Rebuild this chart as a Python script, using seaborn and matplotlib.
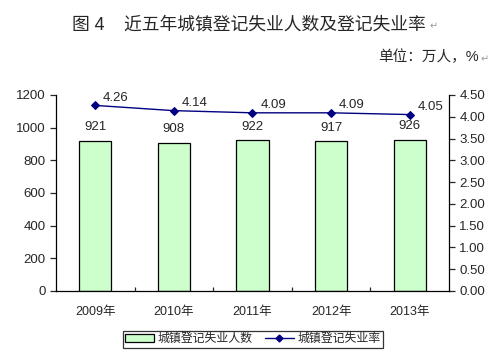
import numpy as np
import pandas as pd
import matplotlib
matplotlib.use("Agg")
import matplotlib.pyplot as plt
import seaborn as sns
from matplotlib.lines import Line2D
from matplotlib.patches import Patch

# data
years = ["2009年", "2010年", "2011年", "2012年", "2013年"]
unemployed = [921, 908, 922, 917, 926]        # 万人
rate = [4.26, 4.14, 4.09, 4.09, 4.05]          # %

sns.set_style("white")
plt.rcParams['font.family'] = ['Liberation Sans', 'Noto Sans CJK SC', 'DejaVu Sans']

df = pd.DataFrame({"year": years, "num": unemployed, "rate": rate, "pos": range(len(years))})

fig = plt.figure(figsize=(4.98, 3.57), dpi=100)
ax = fig.add_axes([0.1124, 0.185, 0.7892, 0.549])

sns.barplot(data=df, x="year", y="num", color="#CCFFCC", edgecolor="black",
            linewidth=0.9, width=0.41, saturation=1, ax=ax)
ax.set_ylim(0, 1200)
ax.set_yticks(np.arange(0, 1201, 200))
ax.set_xlim(-0.5, len(years) - 0.5)
ax.set_xticks(np.arange(0.5, len(years) - 1, 1), minor=True)
ax.set_xlabel("")
ax.set_ylabel("")
for i, v in enumerate(unemployed):
    ax.text(i, v + 45, str(v), ha="center", va="bottom", fontsize=9.5)

ax2 = ax.twinx()
sns.lineplot(data=df, x="pos", y="rate", color="#000080", marker="D", markersize=4,
             markeredgecolor="#000080", linewidth=1, ax=ax2)
ax2.set_ylim(0, 4.5)
ax2.set_yticks(np.arange(0, 4.51, 0.5))
ax2.set_yticklabels([f"{t:.2f}" for t in np.arange(0, 4.51, 0.5)])
ax2.set_xlim(-0.5, len(years) - 0.5)
ax2.set_xlabel("")
ax2.set_ylabel("")
for i, v in enumerate(rate):
    ax2.text(i + 0.1, v + 0.04, f"{v:.2f}", ha="left", va="bottom", fontsize=9.5)

for a in (ax, ax2):
    a.spines["top"].set_visible(False)
    for s in a.spines.values():
        s.set_color("black")
        s.set_linewidth(0.9)
ax.spines["right"].set_visible(False)
ax2.spines["left"].set_visible(False)
ax2.spines["bottom"].set_visible(False)

ax.tick_params(axis="y", direction="out", length=4, width=0.9, labelsize=9.5, left=True)
ax.tick_params(axis="x", which="major", length=0, labelsize=9, pad=11)
ax.tick_params(axis="x", which="minor", direction="in", length=3, width=0.9, bottom=True)
ax2.tick_params(axis="y", direction="out", length=4, width=0.9, labelsize=9.5, right=True)

fig.text(0.50, 0.93, "图 4    近五年城镇登记失业人数及登记失业率", ha="center", va="center",
         fontsize=12.8)
fig.text(0.862, 0.925, "↵", ha="left", va="center", fontsize=7, color="#999999")
fig.text(0.962, 0.84, "单位：万人，%", ha="right", va="center", fontsize=10.5)
fig.text(0.964, 0.835, "↵", ha="left", va="center", fontsize=7, color="#999999")

handles = [Patch(facecolor="#CCFFCC", edgecolor="black", linewidth=0.9, label="城镇登记失业人数"),
           Line2D([0], [0], color="#000080", marker="D", markersize=3.5, lw=1, label="城镇登记失业率")]
leg = fig.legend(handles=handles, loc="center", bbox_to_anchor=(0.508, 0.05), ncol=2,
                 fontsize=8.6, frameon=True, fancybox=False, edgecolor="black",
                 handlelength=2.4, handleheight=0.6, borderpad=0.2, columnspacing=1.0,
                 handletextpad=0.35, borderaxespad=0)
leg.get_frame().set_linewidth(0.9)

fig.savefig("out.png", dpi=100)
